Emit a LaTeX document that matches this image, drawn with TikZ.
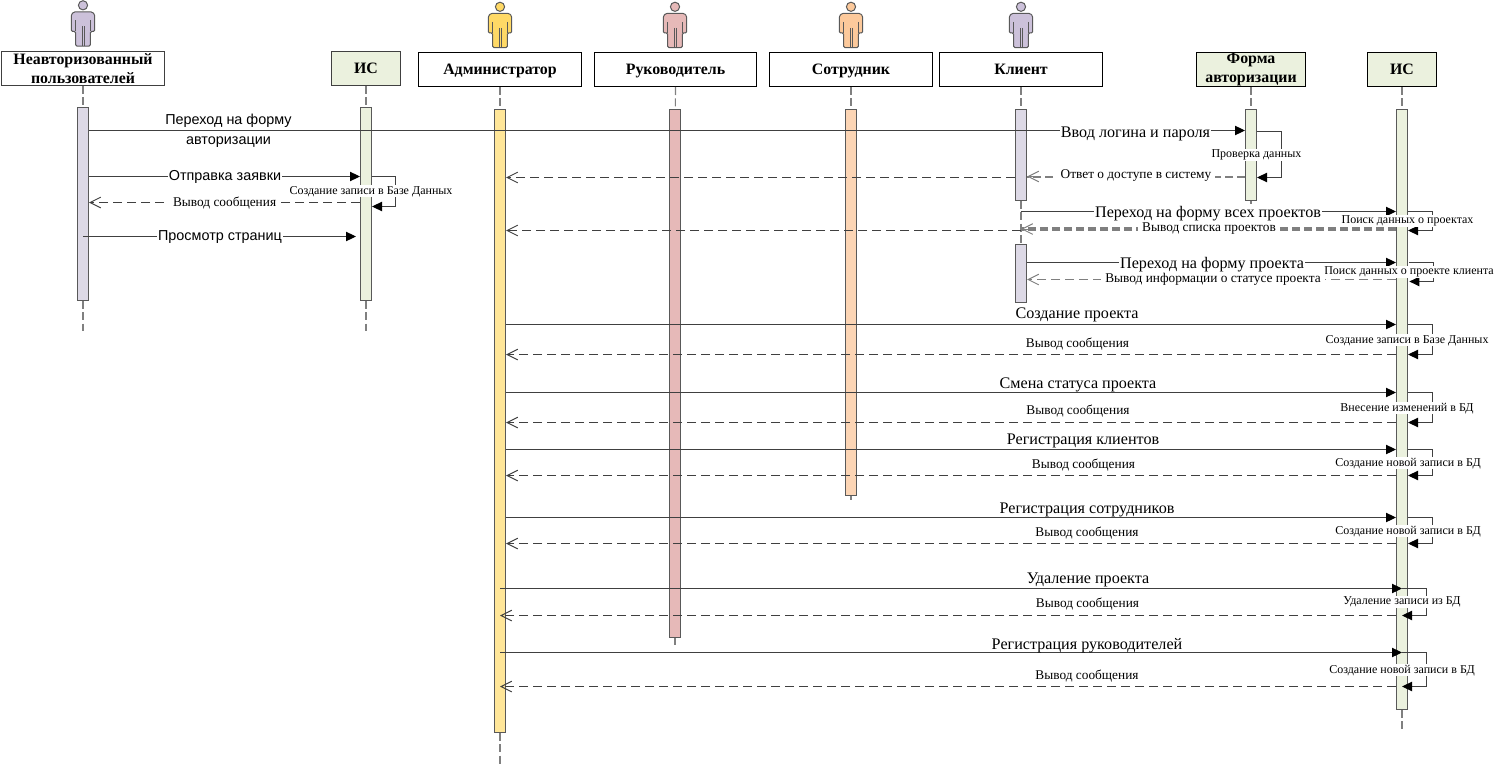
\documentclass[tikz,border=0pt]{standalone}
\usepackage{fontspec}
\setmainfont{Liberation Serif}
\setsansfont{Liberation Sans}
\usetikzlibrary{arrows.meta}
\definecolor{lilacfig}{HTML}{CCC1DA}
\definecolor{lilacbar}{HTML}{DDD9E6}
\definecolor{yellowfig}{HTML}{FFD966}
\definecolor{yellowbar}{HTML}{FFE699}
\definecolor{pinkfig}{HTML}{E6B9B8}
\definecolor{orangefig}{HTML}{FCC99B}
\definecolor{orangebar}{HTML}{FCD5B5}
\definecolor{greenbar}{HTML}{EBF1DE}
\definecolor{wire}{HTML}{404040}
\definecolor{barline}{HTML}{595959}
\definecolor{heavywire}{HTML}{7F7F7F}
\tikzset{
  actorfig/.pic={
    \draw[draw=barline,fill=#1,line width=.75pt,rounded corners=1pt]
      (-9,13.3) -- (9,13.3) -- (11.7,16) -- (11.7,33) -- (7.3,33) -- (7.3,47.7)
      -- (-7.3,47.7) -- (-7.3,33) -- (-11.7,33) -- (-11.7,16) -- cycle;
    \draw[barline,line width=.5pt] (-7.3,22) -- (-7.3,33) (7.3,22) -- (7.3,33)
      (-1,28) -- (-1,47.7) (1,28) -- (1,47.7);
    \draw[draw=barline,fill=#1,line width=.75pt] (0,6.8) circle (4.6);
  },
  headbox/.style={draw=black,line width=.75pt,fill=white,inner sep=0pt,minimum height=25.5pt,
    align=center,font=\bfseries\fontsize{11.9}{14.6}\selectfont},
  oneline/.style={text height=7.5pt,text depth=0pt},
  greenbox/.style={headbox,fill=greenbar},
  actbar/.style={draw=barline,line width=.75pt,inner sep=0pt,minimum width=8.25pt},
  lifeline/.style={draw=gray,line width=.8pt,dash pattern=on 6pt off 2.5pt},
  msg/.style={draw=wire,line width=.75pt,-{Triangle[length=7.5pt,width=7pt,color=black]}},
  reply/.style={draw=wire,line width=.75pt,dash pattern=on 7pt off 3.5pt,-{Straight Barb[length=8pt,width=8pt,line width=.75pt]}},
  lab/.style={fill=white,inner sep=.5pt,yshift=-1pt,font=\fontsize{9}{10}\selectfont},
  replylab/.style={fill=white,inner ysep=.5pt,inner xsep=3pt,yshift=-.6pt,font=\fontsize{10}{11}\selectfont},
  biglab/.style={fill=white,inner sep=.5pt,yshift=-1.7pt,font=\fontsize{12.1}{13}\selectfont},
  sanslab/.style={fill=white,inner sep=.5pt,yshift=-.9pt,font=\sffamily\fontsize{10.8}{15}\selectfont}
}
\begin{document}
\begin{tikzpicture}[x=0.75pt,y=-0.75pt]
  \useasboundingbox (0,0) rectangle (1501,767);
  % actors
  \pic at (83,-1.5) {actorfig=lilacfig};
  \pic at (500,0) {actorfig=yellowfig};
  \pic at (675,0) {actorfig=pinkfig};
  \pic at (851,0) {actorfig=orangefig};
  \pic at (1021,0) {actorfig=lilacfig};
  % heads of the lifelines
  \node[headbox,draw=wire,minimum width={163*0.75pt}] (guest) at (83,68.5) {Неавторизованный\\пользователей};
  \node[greenbox,draw=wire,oneline,minimum width={69*0.75pt}] (sys) at (366,68.5) {ИС};
  \node[headbox,oneline,minimum width={163*0.75pt}] (admin) at (500,69.5) {Администратор};
  \node[headbox,oneline,minimum width={162*0.75pt}] (boss) at (675.5,69.5) {Руководитель};
  \node[headbox,oneline,minimum width={163*0.75pt}] (staff) at (851,69.5) {Сотрудник};
  \node[headbox,oneline,minimum width={163*0.75pt}] (client) at (1021,69.5) {Клиент};
  \node[greenbox,minimum width={109*0.75pt}] (form) at (1251,69.5) {Форма\\авторизации};
  \node[greenbox,oneline,minimum width={69*0.75pt}] (sysb) at (1402,69.5) {ИС};
  % activation bars
  \node[actbar,fill=lilacbar,minimum height={193*0.75pt}] (barG) at (83,204) {};
  \node[actbar,fill=greenbar,minimum height={193*0.75pt}] (barS) at (366,204) {};
  \node[actbar,fill=yellowbar,minimum height={623*0.75pt}] (barA) at (500,421) {};
  \node[actbar,fill=pinkfig,minimum height={528*0.75pt}] (barB) at (675,373.5) {};
  \node[actbar,fill=orangebar,minimum height={386*0.75pt}] (barC) at (851,302.5) {};
  \node[actbar,fill=lilacbar,minimum height={91*0.75pt}] (barK) at (1021,155) {};
  \node[actbar,fill=lilacbar,minimum height={58*0.75pt}] (barL) at (1021,273.5) {};
  \node[actbar,fill=greenbar,minimum height={91*0.75pt}] (barF) at (1251,155) {};
  \node[actbar,fill=greenbar,minimum height={600*0.75pt}] (barI) at (1402,409.5) {};
  % lifelines
  \coordinate (endG) at (83,331);
  \coordinate (endS) at (366,331);
  \coordinate (endA) at (500,765);
  \coordinate (endB) at (675,645);
  \coordinate (endC) at (851,500);
  \coordinate (endF) at (1251,204);
  \coordinate (endI) at (1402,729);
  \draw[lifeline] (guest) -- (barG);
  \draw[lifeline] (barG) -- (endG);
  \draw[lifeline] (sys) -- (barS);
  \draw[lifeline] (barS) -- (endS);
  \draw[lifeline] (admin) -- (barA);
  \draw[lifeline] (barA) -- (endA);
  \draw[lifeline] (boss) -- (barB);
  \draw[lifeline] (barB) -- (endB);
  \draw[lifeline] (staff) -- (barC);
  \draw[lifeline] (barC) -- (endC);
  \draw[lifeline] (client) -- (barK);
  \draw[lifeline] (barK) -- (barL);
  \draw[lifeline] (form) -- (barF);
  \draw[lifeline] (barF) -- (endF);
  \draw[lifeline] (sysb) -- (barI);
  \draw[lifeline] (barI) -- (endI);
  % guest and first system
  \draw[msg] (barG.east |- 0,130.5) -- (barF.west |- 0,130.5);
  \draw[msg] (barG.east |- 0,176.5) -- (barS.west |- 0,176.5);
  \draw[msg] (barS.east |- 0,176.5) -- (395.5,176.5) -- (395.5,206.5) -- (barS.east |- 0,206.5);
  \draw[reply] (barS.west |- 0,202.5) -- (barG.east |- 0,202.5);
  \draw[msg] (barG.center |- 0,236.5) -- ([xshift=-3pt]barS.west |- 0,236.5);
  % form and client
  \draw[msg] (barF.east |- 0,131.5) -- (1281.5,131.5) -- (1281.5,177.5) -- (barF.east |- 0,177.5);
  \draw[draw=heavywire,line width=1.5pt,dash pattern=on 6pt off 3pt] (barF.west |- 0,176.5) -- (barK.east |- 0,176.5);
  \draw[reply,draw=heavywire,solid] ([xshift=9pt]barK.east |- 0,176.5) -- (barK.east |- 0,176.5);
  \draw[reply] (barK.west |- 0,177.5) -- (barA.east |- 0,177.5);
  \draw[msg] (barK.center |- 0,211.5) -- (barI.west |- 0,211.5);
  \draw[msg] (barI.east |- 0,211.5) -- (1432.5,211.5) -- (1432.5,230.5) -- (barI.east |- 0,230.5);
  \draw[draw=heavywire,line width=2.8pt,dash pattern=on 6pt off 3pt] (barI.west |- 0,229) -- (barK.center |- 0,229);
  \draw[reply,draw=heavywire,solid] ([xshift=9pt]barK.center |- 0,229) -- (barK.center |- 0,229);
  \draw[reply] (barK.center |- 0,230.5) -- (barA.east |- 0,230.5);
  \draw[msg] (barL.east |- 0,262.5) -- (barI.west |- 0,262.5);
  \draw[msg] ([xshift=1pt]barI.east |- 0,262.5) -- (1433.5,262.5) -- (1433.5,281.5) -- ([xshift=1pt]barI.east |- 0,281.5);
  \draw[reply,draw=heavywire] (barI.west |- 0,279.5) -- (barL.east |- 0,279.5);
  % administrator and second system
  \draw[msg] (barA.east |- 0,324.5) -- (barI.west |- 0,324.5);
  \draw[msg] (barI.east |- 0,324.5) -- (1432.5,324.5) -- (1432.5,354.5) -- (barI.east |- 0,354.5);
  \draw[reply] (barI.west |- 0,354.5) -- (barA.east |- 0,354.5);
  \draw[msg] (barA.east |- 0,392.5) -- (barI.west |- 0,392.5);
  \draw[msg] (barI.east |- 0,392.5) -- (1432.5,392.5) -- (1432.5,422.5) -- (barI.east |- 0,422.5);
  \draw[reply] (barI.west |- 0,422.5) -- (barA.east |- 0,422.5);
  \draw[msg] (barA.east |- 0,449.5) -- (barI.west |- 0,449.5);
  \draw[msg] (barI.east |- 0,449.5) -- (1432.5,449.5) -- (1432.5,475.5) -- (barI.east |- 0,475.5);
  \draw[reply] (barI.west |- 0,475.5) -- (barA.east |- 0,475.5);
  \draw[msg] (barA.east |- 0,517.5) -- (barI.west |- 0,517.5);
  \draw[msg] (barI.east |- 0,517.5) -- (1432.5,517.5) -- (1432.5,543.5) -- (barI.east |- 0,543.5);
  \draw[reply] (barI.west |- 0,543.5) -- (barA.east |- 0,543.5);
  \draw[msg] (barA.center |- 0,588.5) -- (barI.center |- 0,588.5);
  \draw[msg] (barI.center |- 0,588.5) -- (1426.5,588.5) -- (1426.5,615.5) -- (barI.center |- 0,615.5);
  \draw[reply] (barI.west |- 0,615.5) -- (barA.center |- 0,615.5);
  \draw[msg] (barA.center |- 0,652.5) -- (barI.center |- 0,652.5);
  \draw[msg] (barI.center |- 0,652.5) -- (1426.5,652.5) -- (1426.5,686.5) -- (barI.center |- 0,686.5);
  \draw[reply] (barI.west |- 0,686.5) -- (barA.center |- 0,686.5);
  % labels
  \node[sanslab,fill=none,align=center] (lbGo) at (228.5,129.5) {Переход на форму\\авторизации};
  \node[sanslab] (lbSend) at (225,176) {Отправка заявки};
  \node[lab] (lbRec) at (371,190) {Создание записи в Базе Данных};
  \node[replylab] (lbOut) at (224.6,202) {Вывод сообщения};
  \node[sanslab] (lbView) at (220,236) {Просмотр страниц};
  \node[biglab] (lbLogin) at (1135.5,131.5) {Ввод логина и пароля};
  \node[lab] (lbCheck) at (1256.5,154) {Проверка данных};
  \node[replylab] (lbAnswer) at (1136,175) {Ответ о доступе в систему};
  \node[biglab] (lbAll) at (1208,211) {Переход на форму всех проектов};
  \node[lab] (lbFind) at (1407.5,220) {Поиск данных о проектах};
  \node[replylab] (lbList) at (1209,228) {Вывод списка проектов};
  \node[biglab] (lbOne) at (1212,262) {Переход на форму проекта};
  \node[lab] (lbFindOne) at (1409,271) {Поиск данных о проекте клиента};
  \node[replylab] (lbState) at (1213,279) {Вывод информации о статусе проекта};
  \node[biglab,fill=none] (lbNew) at (1077,313) {Создание проекта};
  \node[lab] (lbRecA) at (1407,339) {Создание записи в Базе Данных};
  \node[replylab,fill=none] (lbOutA) at (1077.5,343) {Вывод сообщения};
  \node[biglab,fill=none] (lbChange) at (1078,383) {Смена статуса проекта};
  \node[lab] (lbEdit) at (1407,407) {Внесение изменений в БД};
  \node[replylab,fill=none] (lbOutB) at (1078,410) {Вывод сообщения};
  \node[biglab,fill=none] (lbRegK) at (1083,438.5) {Регистрация клиентов};
  \node[lab] (lbRecB) at (1408,462) {Создание новой записи в БД};
  \node[replylab,fill=none] (lbOutC) at (1083.5,464) {Вывод сообщения};
  \node[biglab,fill=none] (lbRegS) at (1087,507.5) {Регистрация сотрудников};
  \node[lab] (lbRecC) at (1408,530) {Создание новой записи в БД};
  \node[replylab,fill=none] (lbOutD) at (1087,532) {Вывод сообщения};
  \node[biglab,fill=none] (lbDel) at (1088,578) {Удаление проекта};
  \node[lab] (lbDelRec) at (1402,601) {Удаление записи из БД};
  \node[replylab,fill=none] (lbOutE) at (1087.5,603) {Вывод сообщения};
  \node[biglab,fill=none] (lbRegB) at (1087,643) {Регистрация руководителей};
  \node[lab] (lbRecD) at (1402,669) {Создание новой записи в БД};
  \node[replylab,fill=none] (lbOutF) at (1087,675) {Вывод сообщения};
\end{tikzpicture}
\end{document}
